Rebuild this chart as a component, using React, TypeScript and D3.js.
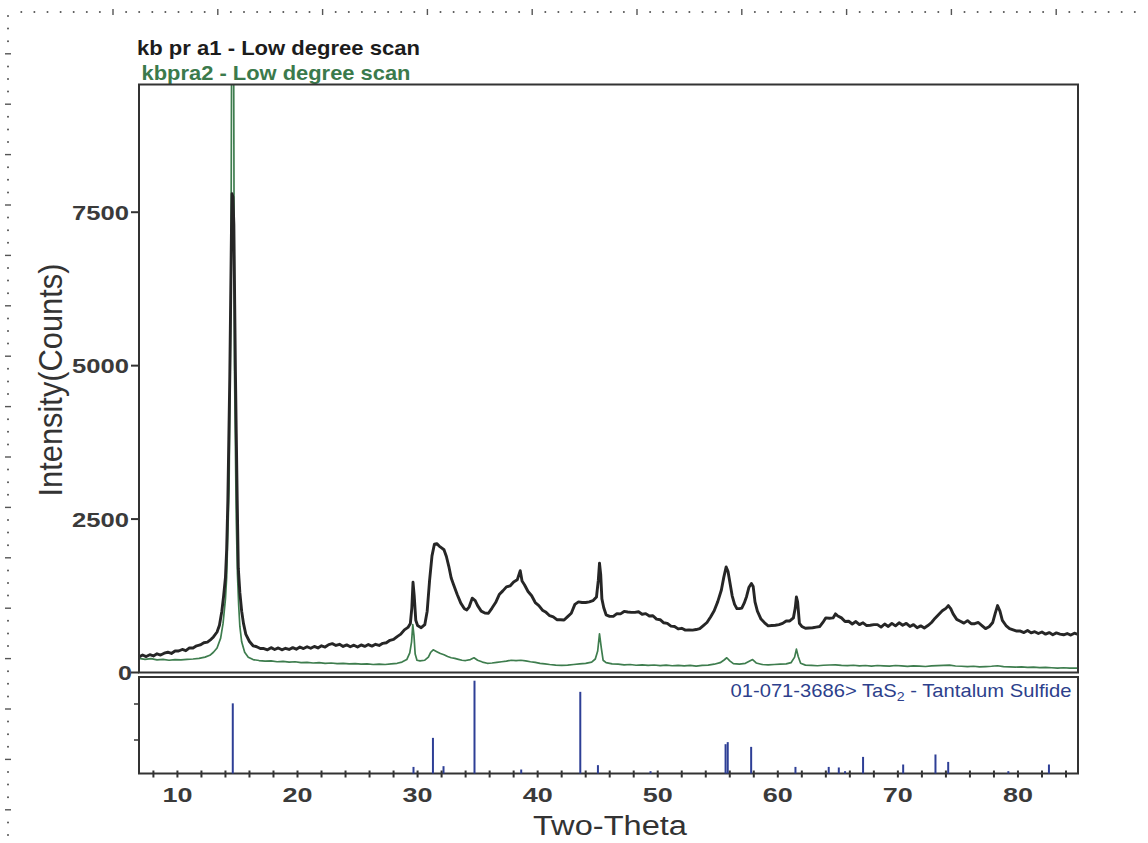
import React from "react";
import * as d3 from "d3";

// kb pr a1 - Low degree scan  [2theta, counts]
const blackScan: [number, number][] = [
  [6.8, 255], [7.1, 285], [7.4, 260], [7.7, 290], [8.0, 270], [8.3, 305], [8.6, 285], [8.9, 315],
  [9.2, 330], [9.5, 310], [9.8, 350], [10.1, 350], [10.4, 375], [10.7, 355], [11.0, 400], [11.3, 400],
  [11.6, 435], [11.9, 450], [12.2, 485], [12.5, 495], [12.8, 540], [13.0, 580], [13.3, 660], [13.5, 770],
  [13.7, 1000], [13.85, 1250], [14.0, 1550], [14.1, 2000], [14.2, 2800], [14.28, 3800], [14.36, 4800],
  [14.43, 6000], [14.5, 7200], [14.55, 7800], [14.62, 7750], [14.7, 7300], [14.77, 6000], [14.83, 4900],
  [14.9, 3900], [14.98, 2800], [15.07, 1700], [15.2, 1300], [15.35, 1000], [15.5, 800], [15.7, 620],
  [16.0, 505], [16.3, 435], [16.6, 420], [16.9, 390], [17.2, 390], [17.5, 370], [17.8, 405], [18.1, 375],
  [18.4, 400], [18.7, 370], [19.0, 395], [19.3, 375], [19.6, 405], [19.9, 380], [20.2, 415], [20.5, 390],
  [20.8, 420], [21.1, 395], [21.4, 425], [21.7, 400], [22.0, 435], [22.3, 415], [22.6, 455], [22.9, 470],
  [23.2, 440], [23.5, 460], [23.8, 425], [24.1, 450], [24.4, 420], [24.7, 445], [25.0, 415], [25.3, 450],
  [25.6, 425], [25.9, 455], [26.2, 430], [26.5, 460], [26.8, 440], [27.1, 475], [27.4, 485], [27.7, 525],
  [28.0, 540], [28.3, 585], [28.6, 625], [28.9, 695], [29.2, 735], [29.4, 800], [29.52, 1050],
  [29.62, 1470], [29.72, 1250], [29.85, 850], [30.0, 765], [30.3, 730], [30.6, 780], [30.8, 1000],
  [31.0, 1500], [31.2, 1900], [31.4, 2090], [31.6, 2100], [31.8, 2060], [32.0, 2030], [32.2, 2000],
  [32.4, 1890], [32.6, 1730], [32.8, 1540], [33.0, 1430], [33.3, 1270], [33.6, 1130], [33.9, 1040],
  [34.1, 1020], [34.3, 1070], [34.55, 1210], [34.8, 1170], [35.0, 1090], [35.3, 1000], [35.6, 970],
  [35.9, 965], [36.2, 1050], [36.5, 1140], [36.8, 1270], [37.1, 1330], [37.4, 1395], [37.7, 1410],
  [38.0, 1475], [38.3, 1510], [38.55, 1660], [38.7, 1490], [38.9, 1430], [39.2, 1320], [39.5, 1250],
  [39.8, 1140], [40.1, 1090], [40.4, 1015], [40.7, 980], [41.0, 925], [41.3, 905], [41.6, 860],
  [41.9, 860], [42.2, 855], [42.5, 910], [42.8, 965], [43.1, 1110], [43.4, 1150], [43.7, 1140],
  [44.0, 1140], [44.3, 1150], [44.6, 1170], [44.9, 1230], [45.05, 1500], [45.15, 1780], [45.25, 1600],
  [45.35, 1200], [45.5, 1060], [45.7, 940], [46.0, 915], [46.3, 915], [46.6, 960], [46.9, 955],
  [47.2, 995], [47.5, 985], [47.8, 980], [48.1, 980], [48.4, 990], [48.7, 950], [49.0, 960], [49.3, 920],
  [49.6, 925], [49.9, 870], [50.2, 860], [50.5, 810], [50.8, 800], [51.1, 755], [51.4, 750], [51.7, 710],
  [52.0, 720], [52.3, 690], [52.6, 695], [52.9, 690], [53.2, 700], [53.5, 715], [53.8, 765], [54.1, 815],
  [54.4, 905], [54.7, 1005], [55.0, 1155], [55.3, 1345], [55.5, 1550], [55.7, 1720], [55.85, 1650],
  [56.0, 1480], [56.2, 1250], [56.4, 1110], [56.6, 1040], [56.8, 1040], [57.0, 1050], [57.2, 1130],
  [57.4, 1240], [57.6, 1390], [57.8, 1450], [57.95, 1400], [58.1, 1150], [58.3, 1000], [58.6, 870],
  [58.9, 810], [59.2, 760], [59.5, 765], [59.8, 770], [60.1, 780], [60.4, 800], [60.7, 840], [61.0, 840],
  [61.3, 890], [61.45, 1050], [61.55, 1230], [61.65, 1150], [61.8, 800], [62.0, 750], [62.3, 720],
  [62.6, 725], [62.9, 730], [63.2, 740], [63.5, 750], [63.8, 830], [64.0, 890], [64.3, 885], [64.6, 890],
  [64.8, 955], [65.0, 920], [65.3, 890], [65.6, 830], [65.9, 835], [66.2, 790], [66.5, 830], [66.8, 780],
  [67.1, 810], [67.4, 765], [67.7, 770], [68.0, 780], [68.3, 780], [68.6, 740], [68.9, 790], [69.2, 750],
  [69.5, 800], [69.8, 760], [70.1, 810], [70.4, 770], [70.7, 800], [71.0, 750], [71.3, 780], [71.6, 730],
  [71.9, 760], [72.2, 725], [72.5, 765], [72.8, 815], [73.1, 885], [73.4, 945], [73.7, 1005],
  [74.0, 1045], [74.2, 1090], [74.4, 1040], [74.6, 955], [74.9, 865], [75.2, 835], [75.5, 805],
  [75.8, 845], [76.1, 795], [76.4, 795], [76.7, 815], [77.0, 765], [77.3, 715], [77.6, 745], [77.9, 815],
  [78.1, 960], [78.3, 1090], [78.5, 1000], [78.7, 850], [79.0, 765], [79.3, 715], [79.6, 695], [79.9, 675],
  [80.2, 675], [80.5, 650], [80.8, 685], [81.1, 645], [81.4, 665], [81.7, 635], [82.0, 660], [82.3, 625],
  [82.6, 650], [82.9, 615], [83.2, 645], [83.5, 625], [83.8, 615], [84.1, 635], [84.4, 610], [84.7, 640],
  [85.0, 620],
];

// kbpra2 - Low degree scan  [2theta, counts]
const greenScan: [number, number][] = [
  [6.8, 230], [7.3, 215], [7.8, 225], [8.3, 205], [8.8, 215], [9.3, 200], [9.8, 210], [10.3, 205],
  [10.8, 215], [11.3, 220], [11.8, 230], [12.3, 250], [12.7, 280], [13.0, 330], [13.3, 400], [13.6, 560],
  [13.8, 800], [14.0, 1200], [14.1, 1550], [14.3, 3000], [14.45, 6000], [14.55, 12500], [14.65, 12500],
  [14.75, 5000], [14.9, 2500], [15.0, 1600], [15.1, 1100], [15.2, 750], [15.35, 500], [15.6, 330],
  [15.9, 250], [16.3, 210], [16.8, 195], [17.3, 185], [17.8, 190], [18.3, 175], [18.8, 180], [19.3, 170],
  [19.8, 175], [20.3, 160], [20.8, 165], [21.3, 155], [21.8, 160], [22.3, 150], [22.8, 155], [23.3, 145],
  [23.8, 150], [24.3, 140], [24.8, 145], [25.3, 135], [25.8, 140], [26.3, 130], [26.8, 135], [27.3, 130],
  [27.8, 140], [28.3, 150], [28.7, 170], [29.1, 210], [29.35, 320], [29.5, 500], [29.6, 780], [29.7, 600],
  [29.8, 300], [29.95, 200], [30.2, 190], [30.6, 200], [30.9, 250], [31.1, 330], [31.3, 370], [31.6, 340],
  [31.9, 310], [32.2, 290], [32.5, 260], [32.8, 240], [33.1, 230], [33.4, 215], [33.7, 200], [34.0, 195],
  [34.4, 210], [34.7, 240], [35.0, 200], [35.4, 170], [35.8, 150], [36.2, 155], [36.6, 165], [37.0, 175],
  [37.4, 185], [37.8, 200], [38.2, 195], [38.6, 200], [39.0, 190], [39.4, 175], [39.8, 165], [40.2, 150],
  [40.6, 140], [41.0, 130], [41.5, 120], [42.0, 115], [42.5, 120], [43.0, 130], [43.5, 140], [44.0, 150],
  [44.5, 170], [44.8, 220], [45.0, 350], [45.15, 630], [45.3, 400], [45.45, 200], [45.7, 160], [46.2, 140],
  [46.7, 135], [47.2, 125], [47.7, 130], [48.2, 118], [48.7, 125], [49.2, 115], [49.7, 122], [50.2, 112],
  [50.7, 120], [51.2, 110], [51.7, 116], [52.2, 108], [52.7, 115], [53.2, 105], [53.7, 115], [54.2, 120],
  [54.7, 135], [55.2, 160], [55.5, 200], [55.75, 240], [56.0, 190], [56.3, 145], [56.8, 135], [57.3, 150],
  [57.7, 190], [57.9, 210], [58.2, 155], [58.7, 130], [59.2, 125], [59.7, 130], [60.2, 135], [60.7, 140],
  [61.1, 160], [61.4, 250], [61.55, 380], [61.7, 260], [61.9, 150], [62.3, 120], [62.8, 115], [63.3, 110],
  [63.8, 118], [64.3, 122], [64.8, 125], [65.3, 115], [65.8, 112], [66.3, 118], [66.8, 108], [67.3, 114],
  [67.8, 105], [68.3, 114], [68.8, 108], [69.3, 104], [69.8, 114], [70.3, 108], [70.8, 100], [71.3, 108],
  [71.8, 104], [72.3, 98], [72.8, 108], [73.3, 112], [73.8, 116], [74.3, 120], [74.8, 106], [75.3, 102],
  [75.8, 97], [76.3, 102], [76.8, 93], [77.3, 97], [77.8, 102], [78.3, 110], [78.8, 96], [79.3, 92],
  [79.8, 88], [80.3, 92], [80.8, 82], [81.3, 87], [81.8, 78], [82.3, 83], [82.8, 77], [83.3, 72],
  [83.8, 77], [84.3, 72], [85.0, 70],
];

// 01-071-3686> TaS2 - Tantalum Sulfide  [2theta, relative intensity %]
const refPeaks: [number, number][] = [
  [14.61, 75.6], [29.66, 7.1], [31.28, 38.4], [32.16, 7.9], [34.74, 100], [38.63, 4.3], [43.55, 88],
  [45.02, 9], [49.4, 2.5], [55.65, 31.6], [55.83, 33.8], [57.78, 28.7], [61.47, 7.1], [64.24, 7.1],
  [65.08, 6.5], [65.6, 2.5], [67.1, 17.9], [70.44, 9.7], [73.13, 20.5], [74.19, 12.5], [79.2, 2.5],
  [82.58, 9.7],
];

const yTickValues = [0, 2500, 5000, 7500];
const yTickLabels = ["0", "2500", "5000", "7500"];
const xTickValues = [10, 20, 30, 40, 50, 60, 70, 80];
const xTickLabels = ["10", "20", "30", "40", "50", "60", "70", "80"];
const xMinorTickValues = [8, 10, 12, 14, 16, 18, 20, 22, 24, 26, 28, 30, 32, 34, 36, 38, 40, 42, 44, 46, 48, 50, 52, 54, 56, 58, 60, 62, 64, 66, 68, 70, 72, 74, 76, 78, 80, 82, 84];

const titleBlack = "kb pr a1 - Low degree scan";
const titleGreen = "kbpra2 - Low degree scan";
const xTitle = "Two-Theta";
const yTitle = "Intensity(Counts)";

export default function App() {
  const W = 1148;
  const H = 843;
  const L = 139, R = 1078, T = 84.5, B = 672.5;
  const RT = 677, RB = 773.5;

  const x = d3.scaleLinear().domain([6.8, 85]).range([L, R]);
  const y = d3.scaleLinear().domain([0, 9581]).range([B, T]);
  const yr = d3.scaleLinear().domain([0, 100]).range([RB, 680.7]);
  const line = d3
    .line<[number, number]>()
    .x((d) => x(d[0]))
    .y((d) => y(d[1]));

  const font = "'Liberation Sans', Arial, sans-serif";

  // scanner ruler decoration
  const topDots = d3.range(0, 86).map((i) => 21.3 + i * 13.1);
  const leftDots = d3.range(0, 66).map((i) => 16 + i * 12.6);

  return (
    <svg
      width={W}
      height={H}
      viewBox={`0 0 ${W} ${H}`}
      style={{ position: "absolute", left: 0, top: 0, background: "#fff" }}
    >
      <rect x={0} y={0} width={W} height={H} fill="#fff" />
      <defs>
        <clipPath id="mainClip">
          <rect x={L} y={T} width={R - L} height={B - T} />
        </clipPath>
      </defs>

      {/* ruler dots */}
      <g fill="#555" stroke="#555">
        {topDots.map((px, i) =>
          i % 8 === 7 ? (
            <line key={"t" + i} x1={px} x2={px} y1={9} y2={15} strokeWidth={1.4} />
          ) : (
            <circle key={"t" + i} cx={px} cy={12} r={1} stroke="none" />
          )
        )}
        {leftDots.map((py, i) =>
          i % 4 === 3 ? (
            <line key={"l" + i} x1={5} x2={11} y1={py} y2={py} strokeWidth={1.4} />
          ) : (
            <circle key={"l" + i} cx={8} cy={py} r={1} stroke="none" />
          )
        )}
      </g>

      {/* titles */}
      <text x={137} y={54.5} fontFamily={font} fontWeight="bold" fontSize={21} fill="#1c1c1c"
        textLength={283} lengthAdjust="spacingAndGlyphs">{titleBlack}</text>
      <text x={141.5} y={79.5} fontFamily={font} fontWeight="bold" fontSize={21} fill="#3b7a4c"
        textLength={269} lengthAdjust="spacingAndGlyphs">{titleGreen}</text>

      {/* series */}
      <g clipPath="url(#mainClip)" fill="none" strokeLinejoin="round">
        <path d={line(greenScan) || ""} stroke="#3e7d4e" strokeWidth={1.7} />
        <path d={line(blackScan) || ""} stroke="#262626" strokeWidth={2.9} />
      </g>

      {/* main frame */}
      <rect x={L} y={T} width={R - L} height={B - T} fill="none" stroke="#333" strokeWidth={2} />

      {/* y ticks */}
      {yTickValues.map((v, i) => (
        <g key={"yt" + v}>
          <line x1={L - 8} x2={L} y1={y(v)} y2={y(v)} stroke="#333" strokeWidth={2} />
          <text
            x={v === 0 ? 132 : 129}
            y={y(v) + 7.5}
            textAnchor="end"
            fontFamily={font}
            fontWeight="bold"
            fontSize={21}
            fill="#3a3a3a"
            textLength={v === 0 ? 14 : 57}
            lengthAdjust="spacingAndGlyphs"
          >
            {yTickLabels[i]}
          </text>
        </g>
      ))}

      {/* y title */}
      <text
        transform={`translate(62, 380) rotate(-90)`}
        textAnchor="middle"
        fontFamily={font}
        fontSize={34}
        fill="#333"
        textLength={233}
        lengthAdjust="spacingAndGlyphs"
      >
        {yTitle}
      </text>

      {/* reference panel */}
      <rect x={L} y={RT} width={R - L} height={RB - RT} fill="none" stroke="#333" strokeWidth={2} />
      <line x1={L - 5} x2={L} y1={704} y2={704} stroke="#333" strokeWidth={1.5} />
      <line x1={L - 5} x2={L} y1={740} y2={740} stroke="#333" strokeWidth={1.5} />
      <g stroke="#2e3f96" strokeWidth={2}>
        {refPeaks.map((p, i) => (
          <line key={"rp" + i} x1={x(p[0])} x2={x(p[0])} y1={RB} y2={yr(p[1])} />
        ))}
      </g>
      <text
        x={1071.5}
        y={697}
        textAnchor="end"
        fontFamily={font}
        fontSize={18.5}
        fill="#2d3f8c"
        textLength={341}
        lengthAdjust="spacingAndGlyphs"
      >
        01-071-3686&gt; TaS
        <tspan fontSize={13} dy={4}>2</tspan>
        <tspan dy={-4}> - Tantalum Sulfide</tspan>
      </text>

      {/* x ticks */}
      <g stroke="#333" strokeWidth={2}>
        {xMinorTickValues.map((v) => (
          <line key={"xm" + v} x1={x(v)} x2={x(v)} y1={RB - 3} y2={RB + 4} />
        ))}
      </g>
      {xTickValues.map((v, i) => (
        <text
          key={"xl" + v}
          x={x(v)}
          y={801.5}
          textAnchor="middle"
          fontFamily={font}
          fontWeight="bold"
          fontSize={21}
          fill="#3a3a3a"
          textLength={30}
          lengthAdjust="spacingAndGlyphs"
        >
          {xTickLabels[i]}
        </text>
      ))}
      <text
        x={610}
        y={835}
        textAnchor="middle"
        fontFamily={font}
        fontSize={27}
        fill="#333"
        textLength={154}
        lengthAdjust="spacingAndGlyphs"
      >
        {xTitle}
      </text>
    </svg>
  );
}
